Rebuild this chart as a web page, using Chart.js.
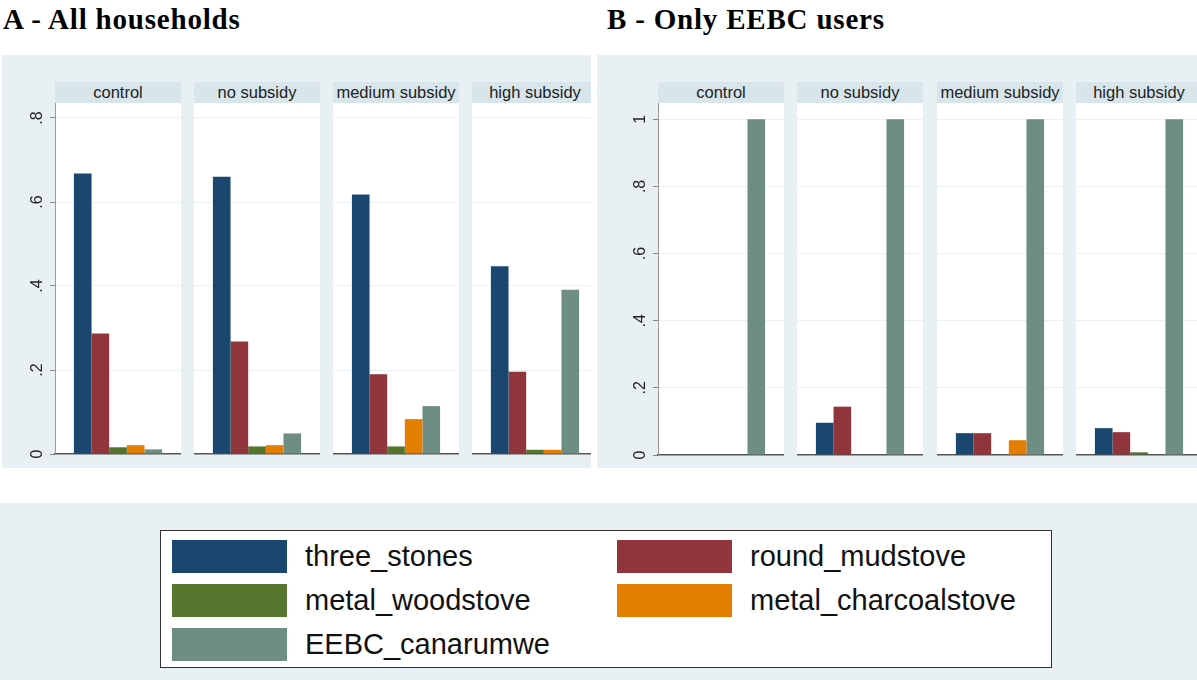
<!DOCTYPE html>
<html>
<head>
<meta charset="utf-8">
<script src="https://cdn.jsdelivr.net/npm/chart.js@4.4.1/dist/chart.umd.min.js"></script>
<style>
  body { margin: 0; background: #ffffff; }
  #root { position: relative; width: 1197px; height: 680px; overflow: hidden; font-family: "Liberation Sans", Arial, sans-serif; }
  .title { position: absolute; top: 5px; font-family: "Liberation Serif", "Times New Roman", serif; font-weight: bold; font-size: 29px; line-height: 29px; letter-spacing: 0.8px; color: #000; white-space: nowrap; }
  .panel { position: absolute; top: 55px; height: 413px; background: #e8f0f3; overflow: hidden; }
  .strip { position: absolute; top: 27px; height: 21px; line-height: 21px; background: #d8e5eb; text-align: center; font-size: 16.5px; color: #222; white-space: nowrap; overflow: hidden; }
  .plotbg { position: absolute; background: #ffffff; }
  canvas { position: absolute; }
  #legendArea { position: absolute; left: 0; top: 503px; width: 1197px; height: 177px; background: #e8f0f3; }
  #legendBox { position: absolute; left: 160px; top: 530px; width: 890px; height: 136px; background: #fff; border: 1.5px solid #333; }
  .lgItem { position: absolute; height: 33px; display: flex; align-items: center; white-space: nowrap; }
  .lgSw { width: 115px; height: 33px; margin-right: 18px; }
  .lgTx { font-size: 29px; color: #111; line-height: 33px; }
</style>
</head>
<body>
<div id="root">
  <div class="title" style="left:3px;">A - All households</div>
  <div class="title" style="left:607px;">B - Only EEBC users</div>
  <div class="panel" id="panelA" style="left:2px; width:589px;"></div>
  <div class="panel" id="panelB" style="left:597px; width:600px;"></div>
  <div id="legendArea"></div>
  <div id="legendBox"></div>
</div>
<script>
// ---- data ----
const groups = ['control', 'no subsidy', 'medium subsidy', 'high subsidy'];
const stoves = ['three_stones', 'round_mudstove', 'metal_woodstove', 'metal_charcoalstove', 'EEBC_canarumwe'];
const stoveColors = ['#1a476f', '#90353b', '#55752f', '#e37e00', '#6e8e84'];

// Panel A - All households (share by group: control, no, medium, high subsidy)
const allThreeStones    = [0.668, 0.660, 0.618, 0.447];
const allRoundMudstove  = [0.287, 0.268, 0.190, 0.196];
const allMetalWood      = [0.016, 0.018, 0.018, 0.010];
const allMetalCharcoal  = [0.021, 0.021, 0.083, 0.010];
const allEEBC           = [0.011, 0.049, 0.114, 0.391];

// Panel B - Only EEBC users
const eebcThreeStones   = [0, 0.096, 0.065, 0.080];
const eebcRoundMudstove = [0, 0.144, 0.065, 0.068];
const eebcMetalWood     = [0, 0, 0, 0.008];
const eebcMetalCharcoal = [0, 0, 0.044, 0];
const eebcEEBC          = [1, 1, 1, 1];

const ticksA = [0, 0.2, 0.4, 0.6, 0.8];
const ticksB = [0, 0.2, 0.4, 0.6, 0.8, 1];

// ---- layout ----
const seriesA = [allThreeStones, allRoundMudstove, allMetalWood, allMetalCharcoal, allEEBC];
const seriesB = [eebcThreeStones, eebcRoundMudstove, eebcMetalWood, eebcMetalCharcoal, eebcEEBC];

function fmtTick(v) {
  if (v === 0) return '0';
  if (v === 1) return '1';
  return v.toFixed(1).replace(/^0/, '');
}

const extraBottom = 12;

function buildPanel(panelId, series, ticks, yMax, plotLefts, areaH) {
  const panel = document.getElementById(panelId);
  const plotW = 126, axisW = 30, plotTop = 48;
  const canvasH = areaH + extraBottom;
  groups.forEach((g, gi) => {
    const left = plotLefts[gi];
    const strip = document.createElement('div');
    strip.className = 'strip';
    strip.style.left = left + 'px';
    strip.style.width = plotW + 'px';
    strip.textContent = g;
    panel.appendChild(strip);

    const bg = document.createElement('div');
    bg.className = 'plotbg';
    bg.style.left = left + 'px';
    bg.style.top = plotTop + 'px';
    bg.style.width = plotW + 'px';
    bg.style.height = areaH + 'px';
    panel.appendChild(bg);

    const showY = gi === 0;
    const cv = document.createElement('canvas');
    const cw = plotW + (showY ? axisW : 0);
    cv.width = cw; cv.height = canvasH;
    cv.style.width = cw + 'px'; cv.style.height = canvasH + 'px';
    cv.style.left = (left - (showY ? axisW : 0)) + 'px';
    cv.style.top = plotTop + 'px';
    panel.appendChild(cv);

    new Chart(cv, {
      type: 'bar',
      data: {
        labels: [g],
        datasets: stoves.map((s, si) => ({
          label: s,
          data: [series[si][gi]],
          backgroundColor: stoveColors[si],
          borderWidth: 0
        }))
      },
      options: {
        responsive: false,
        animation: false,
        devicePixelRatio: 1,
        layout: { padding: 0 },
        plugins: { legend: { display: false }, tooltip: { enabled: false }, title: { display: false } },
        datasets: { bar: { categoryPercentage: 0.7, barPercentage: 1 } },
        scales: {
          x: {
            display: true,
            grid: { display: false },
            ticks: { display: false },
            border: { display: true, color: '#555', width: 1.5 },
            afterFit: s => { s.height = extraBottom; s.paddingLeft = 0; s.paddingRight = 0; }
          },
          y: {
            min: 0, max: yMax,
            afterBuildTicks: s => { s.ticks = ticks.map(v => ({ value: v })); },
            ticks: {
              display: showY,
              minRotation: 90, maxRotation: 90,
              crossAlign: 'center',
              padding: 6,
              color: '#222',
              font: { family: '"Liberation Sans", Arial, sans-serif', size: 16 },
              callback: v => fmtTick(v)
            },
            grid: { color: '#e9f1f4', lineWidth: 1, drawTicks: showY, tickLength: 5, tickColor: '#888', tickWidth: 1 },
            border: { display: showY, color: '#999', width: 1 },
            afterFit: s => { s.width = showY ? axisW : 0; s.paddingTop = 0; s.paddingBottom = 0; }
          }
        }
      }
    });
  });
}

// panel A container left = 2, panel B container left = 597
buildPanel('panelA', seriesA, ticksA, 351 / 420, [55 - 2, 194 - 2, 333 - 2, 472 - 2], 351);
buildPanel('panelB', seriesB, ticksB, 352 / 335.7, [658 - 597, 797 - 597, 937 - 597, 1076 - 597], 352);

// ---- legend ----
const root = document.getElementById('root');
const colLefts = [172, 617];
const rowTops = [540, 584, 628];
stoves.forEach((s, i) => {
  const item = document.createElement('div');
  item.className = 'lgItem';
  item.style.left = colLefts[i % 2] + 'px';
  item.style.top = rowTops[Math.floor(i / 2)] + 'px';
  const sw = document.createElement('div');
  sw.className = 'lgSw';
  sw.style.background = stoveColors[i];
  const tx = document.createElement('span');
  tx.className = 'lgTx';
  tx.textContent = s;
  item.appendChild(sw); item.appendChild(tx);
  root.appendChild(item);
});
</script>
</body>
</html>
